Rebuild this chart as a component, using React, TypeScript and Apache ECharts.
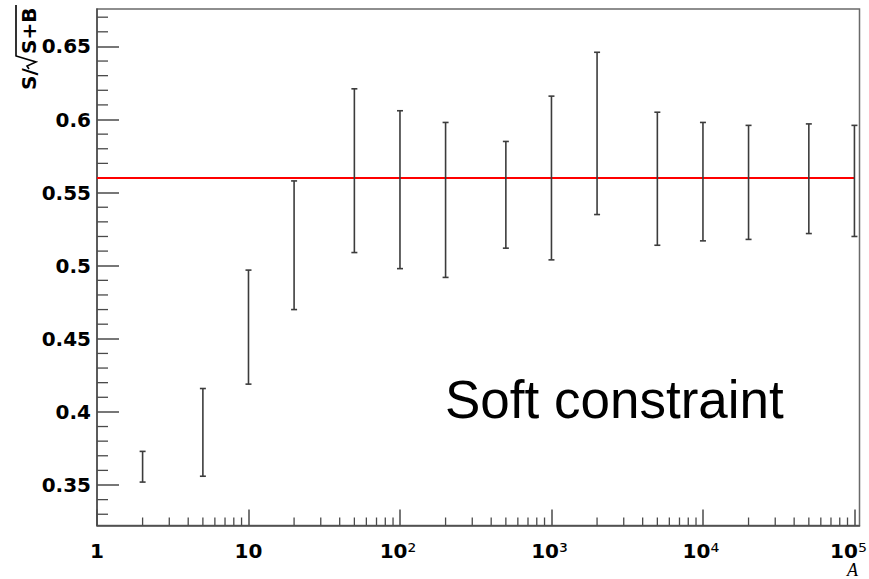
import { useEffect, useRef } from "react";
import * as echarts from "echarts";

// Scan points along A and the measured S/sqrt(S+B) interval at each point
const aValues = [2, 5, 10, 20, 50, 100, 200, 500, 1000, 2000, 5000, 10000, 20000, 50000, 100000];
const lowValues = [0.352, 0.356, 0.419, 0.470, 0.509, 0.498, 0.492, 0.512, 0.504, 0.535, 0.514, 0.517, 0.518, 0.522, 0.520];
const highValues = [0.373, 0.416, 0.497, 0.558, 0.621, 0.606, 0.598, 0.585, 0.616, 0.646, 0.605, 0.598, 0.596, 0.597, 0.596];

// Horizontal reference level
const referenceLevel = 0.56;
const referenceRange = [1, 100000];

// Axis ranges and tick positions
const xRange = [1, 108000];
const yRange = [0.3223, 0.6756];
const xMajorTicks = [1, 10, 100, 1000, 10000, 100000];
const xMinorTicks = [
  2, 3, 4, 5, 6, 7, 8, 9,
  20, 30, 40, 50, 60, 70, 80, 90,
  200, 300, 400, 500, 600, 700, 800, 900,
  2000, 3000, 4000, 5000, 6000, 7000, 8000, 9000,
  20000, 30000, 40000, 50000, 60000, 70000, 80000, 90000,
];
const yMajorTicks = [0.35, 0.4, 0.45, 0.5, 0.55, 0.6, 0.65];
const yMinorTicks = [
  0.33, 0.34, 0.36, 0.37, 0.38, 0.39, 0.41, 0.42, 0.43, 0.44,
  0.46, 0.47, 0.48, 0.49, 0.51, 0.52, 0.53, 0.54, 0.56, 0.57,
  0.58, 0.59, 0.61, 0.62, 0.63, 0.64, 0.66, 0.67,
];

const AXIS_COLOR = "#4a4a4a";
const BAR_COLOR = "#3c3c3c";
const LABEL_FONT = "DejaVu Sans";
const SUPERSCRIPT_DIGITS = ["⁰", "¹", "²", "³", "⁴", "⁵", "⁶", "⁷", "⁸", "⁹"];

export default function App() {
  const ref = useRef<HTMLDivElement>(null);

  useEffect(() => {
    if (!ref.current) return;
    const chart = echarts.init(ref.current, null, { renderer: "svg" });

    const supStyle = (padRight: number) => ({
      fontFamily: LABEL_FONT,
      fontSize: 22,
      color: "#000",
      lineHeight: 16,
      padding: [0, padRight, 0, 0],
    });

    const option: any = {
      animation: false,
      backgroundColor: "#ffffff",
      grid: {
        left: 97,
        right: 9.5,
        top: 9,
        bottom: 53.5,
        show: true,
        borderColor: "#6a6a6a",
        borderWidth: 1.5,
        containLabel: false,
        outerBoundsMode: "none",
      },
      xAxis: {
        type: "log",
        logBase: 10,
        min: xRange[0],
        max: xRange[1],
        axisLine: { show: true, lineStyle: { color: AXIS_COLOR, width: 1.5 } },
        axisTick: {
          show: true,
          inside: true,
          length: 16,
          customValues: xMajorTicks,
          lineStyle: { color: AXIS_COLOR, width: 1.5 },
        },
        axisLabel: {
          customValues: xMajorTicks,
          margin: 17.5,
          color: "#000",
          formatter: (v: number) => {
            const e = Math.round(Math.log10(v));
            if (e === 0) return "{b|1}";
            if (e === 1) return "{b|10}";
            const sup = SUPERSCRIPT_DIGITS[e];
            // the last label sits at the frame edge, so it is nudged left
            return e === 5 ? `{b|10}{se|${sup}}` : `{b|10}{s|${sup}}`;
          },
          rich: {
            b: { fontFamily: LABEL_FONT, fontWeight: "bold", fontSize: 20, color: "#000", lineHeight: 16 },
            s: supStyle(4),
            se: supStyle(12),
          },
        },
        splitLine: { show: false },
      },
      yAxis: {
        type: "value",
        min: yRange[0],
        max: yRange[1],
        axisLine: { show: true, lineStyle: { color: AXIS_COLOR, width: 1.5 } },
        axisTick: {
          show: true,
          inside: true,
          length: 22,
          customValues: yMajorTicks,
          lineStyle: { color: AXIS_COLOR, width: 1.5 },
        },
        axisLabel: {
          customValues: yMajorTicks,
          margin: 6,
          color: "#000",
          fontFamily: LABEL_FONT,
          fontWeight: "bold",
          fontSize: 20,
          formatter: (v: number) => String(Number(v.toFixed(2))),
        },
        splitLine: { show: false },
      },
      series: [
        {
          // minor ticks along A
          type: "custom",
          silent: true,
          clip: false,
          data: xMinorTicks.map((v) => [v, yRange[0]]),
          encode: { x: 0, y: 1 },
          renderItem: (_p: any, api: any) => {
            const p = api.coord([api.value(0), api.value(1)]);
            return {
              type: "line",
              shape: { x1: p[0], y1: p[1], x2: p[0], y2: p[1] - 8 },
              style: { stroke: AXIS_COLOR, lineWidth: 1.3 },
            };
          },
        },
        {
          // minor ticks along S/sqrt(S+B)
          type: "custom",
          silent: true,
          clip: false,
          data: yMinorTicks.map((v) => [xRange[0], v]),
          encode: { x: 0, y: 1 },
          renderItem: (_p: any, api: any) => {
            const p = api.coord([api.value(0), api.value(1)]);
            return {
              type: "line",
              shape: { x1: p[0], y1: p[1], x2: p[0] + 11, y2: p[1] },
              style: { stroke: AXIS_COLOR, lineWidth: 1.3 },
            };
          },
        },
        {
          type: "line",
          data: referenceRange.map((a) => [a, referenceLevel]),
          showSymbol: false,
          symbol: "none",
          lineStyle: { color: "#ff0000", width: 2 },
          z: 3,
        },
        {
          // error bars
          type: "custom",
          data: aValues.map((a, i) => [a, lowValues[i], highValues[i]]),
          encode: { x: 0, y: [1, 2] },
          z: 4,
          renderItem: (_p: any, api: any) => {
            const lo = api.coord([api.value(0), api.value(1)]);
            const hi = api.coord([api.value(0), api.value(2)]);
            const hw = 3;
            const style = { stroke: BAR_COLOR, lineWidth: 1.6 };
            return {
              type: "group",
              children: [
                { type: "line", shape: { x1: lo[0], y1: lo[1], x2: hi[0], y2: hi[1] }, style },
                { type: "line", shape: { x1: lo[0] - hw, y1: lo[1], x2: lo[0] + hw, y2: lo[1] }, style },
                { type: "line", shape: { x1: hi[0] - hw, y1: hi[1], x2: hi[0] + hw, y2: hi[1] }, style },
              ],
            };
          },
        },
      ],
      graphic: [
        {
          type: "group",
          x: 36,
          y: 90,
          rotation: Math.PI / 2,
          children: [
            {
              type: "text",
              x: 0,
              y: -7,
              style: {
                text: "S/",
                fontFamily: LABEL_FONT,
                fontWeight: "bold",
                fontSize: 20,
                fill: "#000",
                align: "left",
                verticalAlign: "middle",
              },
            },
            {
              type: "polyline",
              shape: { points: [[21, -7], [24, -9], [28, 0], [34, -20], [85, -20]] },
              style: { stroke: "#000", lineWidth: 1.6, fill: "none" },
            },
            {
              type: "text",
              x: 36,
              y: -7,
              style: {
                text: "S+B",
                fontFamily: LABEL_FONT,
                fontWeight: "bold",
                fontSize: 20,
                fill: "#000",
                align: "left",
                verticalAlign: "middle",
              },
            },
          ],
        },
        {
          type: "text",
          x: 445,
          y: 399,
          style: {
            text: "Soft constraint",
            fontFamily: "Liberation Sans",
            fontSize: 53,
            fill: "#000",
            align: "left",
            verticalAlign: "middle",
          },
        },
        {
          type: "text",
          x: 858,
          y: 569.5,
          style: {
            text: "A",
            fontFamily: "Liberation Serif",
            fontStyle: "italic",
            fontSize: 18,
            fill: "#000",
            align: "right",
            verticalAlign: "middle",
          },
        },
      ],
    };

    chart.setOption(option);
    return () => chart.dispose();
  }, []);

  return (
    <div
      ref={ref}
      style={{ position: "fixed", left: 0, top: 0, width: 869, height: 579 }}
    />
  );
}
